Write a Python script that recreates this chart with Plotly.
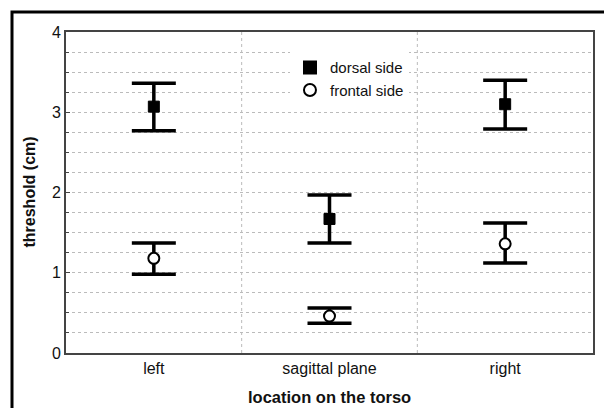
import plotly.graph_objects as go

categories = ["left", "sagittal plane", "right"]
dorsal_mean = [3.07, 1.67, 3.10]
dorsal_upper = [3.36, 1.97, 3.40]
dorsal_lower = [2.77, 1.37, 2.79]
frontal_mean = [1.18, 0.46, 1.36]
frontal_upper = [1.37, 0.56, 1.62]
frontal_lower = [0.98, 0.37, 1.12]
x_title = "location on the torso"
y_title = "threshold (cm)"

xpos = list(range(len(categories)))

def err(m, u, l):
    return dict(type="data", symmetric=False,
                array=[a - b for a, b in zip(u, m)],
                arrayminus=[b - c for b, c in zip(m, l)],
                color="black", thickness=3.5, width=22)

fig = go.Figure()
fig.add_trace(go.Scatter(
    x=xpos, y=dorsal_mean, mode="markers", name="dorsal side",
    marker=dict(symbol="square", size=11, color="black", line=dict(color="black", width=1)),
    error_y=err(dorsal_mean, dorsal_upper, dorsal_lower)))
fig.add_trace(go.Scatter(
    x=xpos, y=frontal_mean, mode="markers", name="frontal side",
    marker=dict(symbol="circle", size=11, color="white", line=dict(color="black", width=2)),
    error_y=err(frontal_mean, frontal_upper, frontal_lower)))

W, H = 604, 408
L, R, T, B = 66, 11, 32, 55
pw, ph = W - L - R, H - T - B

fig.update_layout(
    width=W, height=H,
    margin=dict(l=L, r=R, t=T, b=B),
    paper_bgcolor="white", plot_bgcolor="white",
    font=dict(family="Liberation Sans, Arial, sans-serif", size=16, color="#111"),
    showlegend=True,
    legend=dict(x=0.425, y=0.94, xanchor="left", yanchor="top", bgcolor="white",
                font=dict(size=15, color="#111"), itemsizing="constant",
                tracegroupgap=0, borderwidth=0),
    xaxis=dict(range=[-0.5, 2.5], tickmode="array", tickvals=xpos, ticktext=categories,
               showgrid=False, zeroline=False, showline=True, linecolor="#444", linewidth=2,
               mirror=True, ticks="", tickfont=dict(size=16), automargin=False),
    yaxis=dict(range=[0, 4], tickmode="linear", tick0=0, dtick=1,
               showgrid=True, gridcolor="#bbbbbb", griddash="dot", gridwidth=1,
               zeroline=False, showline=True, linecolor="#444", linewidth=2, mirror=True,
               ticks="inside", ticklen=4, tickcolor="#444", tickfont=dict(size=16),
               automargin=False,
               minor=dict(dtick=0.25, tick0=0, showgrid=True, gridcolor="#bbbbbb",
                          griddash="dot", gridwidth=1, ticks="inside", ticklen=3, tickcolor="#444")),
)

fig.add_annotation(text="<b>" + x_title + "</b>", xref="paper", yref="paper",
                   x=0.5, y=-(397 - (T + ph)) / ph, xanchor="center", yanchor="middle",
                   showarrow=False, font=dict(size=16.5, color="#111"))
fig.add_annotation(text="<b>" + y_title + "</b>", xref="paper", yref="paper",
                   x=(29 - L) / pw, y=0.5, xanchor="center", yanchor="middle", textangle=-90,
                   showarrow=False, font=dict(size=16, color="#111"))

for v in [0.5, 1.5]:
    fig.add_shape(type="line", xref="x", yref="paper", x0=v, x1=v, y0=0, y1=1,
                  line=dict(color="#bbbbbb", width=1, dash="dot"), layer="below")

fig.add_shape(type="rect", xref="paper", yref="paper",
              x0=(12 - L) / pw, x1=1.2, y0=-0.3, y1=(T + ph - 12) / ph,
              line=dict(color="black", width=3), layer="above")

fig.write_html("out.html")
